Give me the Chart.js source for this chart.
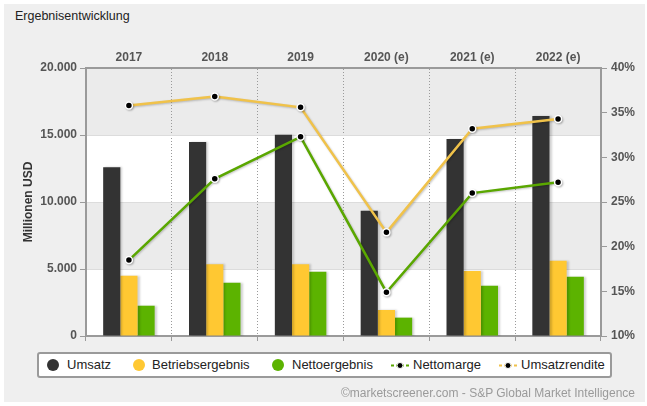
<!DOCTYPE html>
<html>
<head>
<meta charset="utf-8">
<script src="https://cdn.jsdelivr.net/npm/chart.js@4/dist/chart.umd.min.js"></script>
<style>
  html,body{margin:0;padding:0;background:#fff;}
  body{width:647px;height:406px;position:relative;overflow:hidden;font-family:"Liberation Sans",Arial,sans-serif;}
  #bg{position:absolute;left:4px;top:4px;width:641px;height:398px;background:#efefef;}
  #title{position:absolute;left:15px;top:8px;font-size:12.5px;color:#222;line-height:16px;}
  #chart{position:absolute;left:0;top:0;}
  #legend{position:absolute;left:37px;top:352px;width:571px;height:22px;border:2px solid #9a9a9a;border-radius:3px;background:#fff;}
  .li{position:absolute;top:359px;height:13px;}
  .lt{position:absolute;top:357px;font-size:13px;line-height:16px;color:#222;}
  .dot{width:12px;height:12px;border-radius:50%;}
  #credit{position:absolute;right:12px;top:386px;font-size:12px;line-height:14px;color:#9a9a9a;}
</style>
</head>
<body>
<div id="bg"></div>
<div id="title">Ergebnisentwicklung</div>
<canvas id="chart" width="647" height="406"></canvas>
<div id="legend"></div>
<div class="li dot" style="left:47px;background:#333333;"></div><div class="lt" style="left:67px;">Umsatz</div>
<div class="li dot" style="left:133px;background:#ffc832;"></div><div class="lt" style="left:152px;">Betriebsergebnis</div>
<div class="li dot" style="left:272px;background:#5cb300;"></div><div class="lt" style="left:292px;">Nettoergebnis</div>
<svg class="li" style="left:391px;" width="18" height="13"><line x1="0" y1="6.5" x2="18" y2="6.5" stroke="#5aa700" stroke-width="2" stroke-dasharray="3,2"/><circle cx="9" cy="6.5" r="3" fill="#000" stroke="#fff" stroke-width="1"/></svg><div class="lt" style="left:413px;">Nettomarge</div>
<svg class="li" style="left:499px;" width="18" height="13"><line x1="0" y1="6.5" x2="18" y2="6.5" stroke="#f0c24a" stroke-width="2" stroke-dasharray="3,2"/><circle cx="9" cy="6.5" r="3" fill="#000" stroke="#fff" stroke-width="1"/></svg><div class="lt" style="left:521px;">Umsatzrendite</div>
<div id="credit">©marketscreener.com - S&amp;P Global Market Intelligence</div>
<script>
// ---- data ----
const years = ['2017', '2018', '2019', '2020 (e)', '2021 (e)', '2022 (e)'];
const umsatz = [12600, 14480, 15020, 9350, 14700, 16420];
const betriebsergebnis = [4500, 5350, 5350, 1940, 4850, 5620];
const nettoergebnis = [2260, 3980, 4800, 1370, 3750, 4430];
const nettomarge = [18.5, 27.6, 32.3, 14.9, 26.0, 27.2];
const umsatzrendite = [35.8, 36.8, 35.6, 21.6, 33.2, 34.3];
const leftTicks = [0, 5000, 10000, 15000, 20000];
const rightTicks = [10, 15, 20, 25, 30, 35, 40];

function fmtDE(v) {
  return String(Math.round(v)).replace(/\B(?=(\d{3})+(?!\d))/g, '.');
}

Chart.defaults.font.family = '"Liberation Sans", Arial, sans-serif';

const bands = {
  id: 'bands',
  beforeDraw(chart) {
    const {ctx, chartArea: a, scales: {y}} = chart;
    ctx.save();
    ctx.fillStyle = '#ffffff';
    ctx.fillRect(a.left, a.top, a.right - a.left, a.bottom - a.top);
    ctx.fillStyle = '#ebebeb';
    for (let i = 1; i < leftTicks.length; i += 2) {
      const yt = y.getPixelForValue(leftTicks[i + 1] !== undefined ? leftTicks[i + 1] : leftTicks[i]);
      const yb = y.getPixelForValue(leftTicks[i]);
      ctx.fillRect(a.left, yt, a.right - a.left, yb - yt);
    }
    ctx.restore();
  }
};

const shadows = {
  id: 'shadows',
  beforeDatasetDraw(chart, args) {
    const ctx = chart.ctx;
    const isLine = chart.data.datasets[args.index].type === 'line';
    ctx.save();
    ctx.shadowColor = isLine ? 'rgba(0,0,0,0.22)' : 'rgba(0,0,0,0.18)';
    ctx.shadowBlur = 2;
    ctx.shadowOffsetX = isLine ? 1 : 2;
    ctx.shadowOffsetY = isLine ? 1 : 0;
  },
  afterDatasetDraw(chart) { chart.ctx.restore(); }
};

const tickFont = {size: 12, weight: 'bold'};

new Chart(document.getElementById('chart'), {
  data: {
    labels: years,
    datasets: [
      {type: 'line', label: 'Nettomarge', data: nettomarge, yAxisID: 'y1', xAxisID: 'x',
       borderColor: '#5aa700', borderWidth: 2.5, tension: 0,
       pointRadius: 3.5, pointBorderWidth: 1.5, pointBackgroundColor: '#000', pointBorderColor: '#fff', order: 0},
      {type: 'line', label: 'Umsatzrendite', data: umsatzrendite, yAxisID: 'y1', xAxisID: 'x',
       borderColor: '#f0c24a', borderWidth: 2.5, tension: 0,
       pointRadius: 3.5, pointBorderWidth: 1.5, pointBackgroundColor: '#000', pointBorderColor: '#fff', order: 0},
      {type: 'bar', label: 'Umsatz', data: umsatz, backgroundColor: '#333333', yAxisID: 'y', xAxisID: 'x',
       categoryPercentage: 0.6, barPercentage: 1, borderWidth: 0, order: 1},
      {type: 'bar', label: 'Betriebsergebnis', data: betriebsergebnis, backgroundColor: '#ffc832', yAxisID: 'y', xAxisID: 'x',
       categoryPercentage: 0.6, barPercentage: 1, borderWidth: 0, order: 1},
      {type: 'bar', label: 'Nettoergebnis', data: nettoergebnis, backgroundColor: '#5cb300', yAxisID: 'y', xAxisID: 'x',
       categoryPercentage: 0.6, barPercentage: 1, borderWidth: 0, order: 1}
    ]
  },
  options: {
    responsive: false,
    devicePixelRatio: 1,
    animation: false,
    layout: {padding: {top: 40, left: 0, right: 0, bottom: 0}},
    plugins: {legend: {display: false}, tooltip: {enabled: false}, title: {display: false}},
    scales: {
      x: {
        type: 'category', position: 'top', offset: true,
        grid: {offset: true, color: '#9a9a9a', lineWidth: 1, drawTicks: false},
        border: {color: '#9a9a9a', width: 2, dash: [1, 2]},
        ticks: {font: tickFont, color: '#555', padding: 3},
        afterFit(s) { s.height = 28; }
      },
      x2: {
        type: 'category', position: 'bottom', offset: true,
        grid: {offset: true, drawOnChartArea: false, drawTicks: true, tickLength: 5, tickColor: '#9a9a9a', color: '#9a9a9a'},
        border: {color: '#9a9a9a', width: 2},
        ticks: {display: false},
        afterFit(s) { s.height = 70; }
      },
      y: {
        position: 'left', min: 0, max: 20000,
        afterBuildTicks(s) { s.ticks = leftTicks.map(v => ({value: v})); },
        ticks: {font: tickFont, color: '#555', padding: 3, callback: v => fmtDE(v)},
        grid: {color: '#dcdcdc', lineWidth: 1, tickColor: '#9a9a9a', tickLength: 6},
        border: {color: '#9a9a9a', width: 2},
        title: {display: true, text: 'Millionen USD', font: {size: 12, weight: 'bold'}, color: '#333', padding: {top: 21, bottom: 0}},
        afterFit(s) { s.width = 86; }
      },
      y1: {
        position: 'right', min: 10, max: 40,
        afterBuildTicks(s) { s.ticks = rightTicks.map(v => ({value: v})); },
        ticks: {font: tickFont, color: '#555', padding: 4, callback: v => v + '%'},
        grid: {drawOnChartArea: false, tickColor: '#9a9a9a', tickLength: 6, color: '#9a9a9a'},
        border: {color: '#9a9a9a', width: 2},
        afterFit(s) { s.width = 46; }
      }
    }
  },
  plugins: [bands, shadows]
});
</script>
</body>
</html>
